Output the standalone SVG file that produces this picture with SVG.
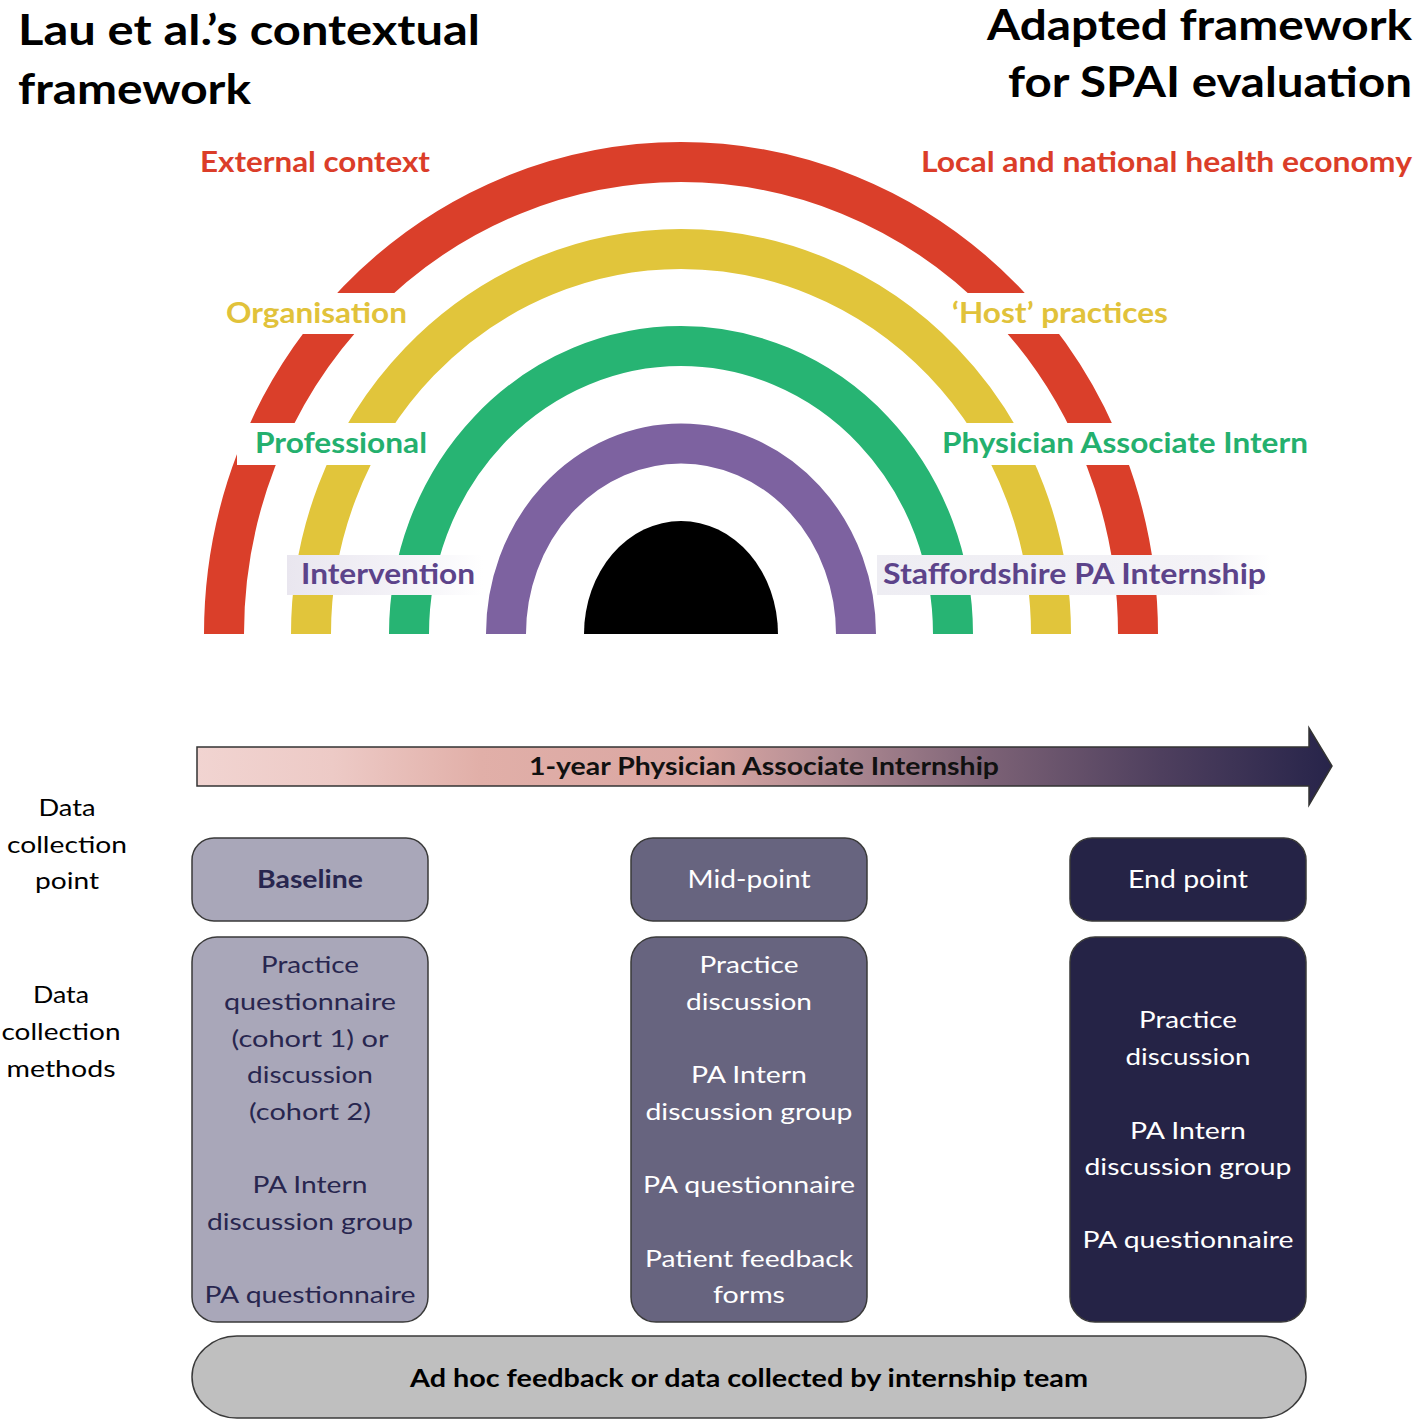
<svg xmlns="http://www.w3.org/2000/svg" width="1416" height="1422" viewBox="0 0 1416 1422">
<style>
.t{font-family:Lato,"Liberation Sans",sans-serif}
.title{font-size:42px;font-weight:bold;fill:#000}
.lab{font-size:28px;font-weight:bold}
.red{fill:#DB3D29}.yel{fill:#E1C23A}.grn{fill:#24B06E}.pur{fill:#5C438A}
.arc{fill:none;stroke-width:40}
.side{font-size:24px;fill:#000}
.box{stroke:#3a3a3a;stroke-width:1.5}
.b1{fill:#A9A7B9}.b2{fill:#67647F}.b3{fill:#252346}
.tx1{fill:#28264F}.tx2{fill:#fff}
.body{font-size:24px}
.head{font-size:25px}
</style>
<defs>
<linearGradient id="arrowGrad" gradientUnits="userSpaceOnUse" x1="197" y1="0" x2="1332" y2="0">
<stop offset="0" stop-color="#F1D4D1"/>
<stop offset="0.12" stop-color="#EDCAC6"/>
<stop offset="0.25" stop-color="#E1AFA8"/>
<stop offset="0.45" stop-color="#D9A6A2"/>
<stop offset="0.56" stop-color="#B08B93"/>
<stop offset="0.70" stop-color="#7B6175"/>
<stop offset="0.85" stop-color="#4E3F5E"/>
<stop offset="1" stop-color="#27244A"/>
</linearGradient>
<linearGradient id="lavL" x1="0" y1="0" x2="1" y2="0">
<stop offset="0" stop-color="#E9E6EF"/>
<stop offset="0.7" stop-color="#F6F5F9"/>
<stop offset="1" stop-color="#FFFFFF"/>
</linearGradient>
<linearGradient id="lavR" x1="0" y1="0" x2="1" y2="0">
<stop offset="0" stop-color="#EEEDF3"/>
<stop offset="0.85" stop-color="#F4F3F7"/>
<stop offset="1" stop-color="#FFFFFF"/>
</linearGradient>
</defs>
<rect width="1416" height="1422" fill="#fff"/>

<g id="titles" class="t title">
<text x="18" y="45" textLength="462" lengthAdjust="spacingAndGlyphs">Lau et al.’s contextual</text>
<text x="18" y="104" textLength="233" lengthAdjust="spacingAndGlyphs">framework</text>
<text x="1412" y="40" text-anchor="end" textLength="425" lengthAdjust="spacingAndGlyphs">Adapted framework</text>
<text x="1412" y="97" text-anchor="end" textLength="404" lengthAdjust="spacingAndGlyphs">for SPAI evaluation</text>
</g>

<g id="rainbow">
<path class="arc" stroke="#DA3F2A" d="M224 634 A457 472 0 0 1 1138 634"/>
<path class="arc" stroke="#E1C53B" d="M311 634 A370 385 0 0 1 1051 634"/>
<path class="arc" stroke="#27B473" d="M409 634 A272 288 0 0 1 953 634"/>
<path class="arc" stroke="#7D62A0" d="M506 634 A175 190.5 0 0 1 856 634"/>
<path d="M584 634 A97 113 0 0 1 778 634 Z" fill="#000"/>
</g>

<g id="label-backgrounds">
<rect x="215" y="293" width="198" height="41" fill="#fff"/>
<rect x="946" y="293" width="230" height="41" fill="#fff"/>
<rect x="237" y="423" width="196" height="42" fill="#fff"/>
<rect x="935" y="423" width="380" height="42" fill="#fff"/>
<rect x="287" y="555" width="196" height="40" fill="url(#lavL)"/>
<rect x="877" y="555" width="394" height="40" fill="url(#lavR)"/>
</g>

<g id="rainbow-labels" class="t lab">
<text class="red" x="200" y="172" textLength="230" lengthAdjust="spacingAndGlyphs">External context</text>
<text class="red" x="921" y="172" textLength="491" lengthAdjust="spacingAndGlyphs">Local and national health economy</text>
<text class="yel" x="226" y="323" textLength="181" lengthAdjust="spacingAndGlyphs">Organisation</text>
<text class="yel" x="952" y="323" textLength="216" lengthAdjust="spacingAndGlyphs">‘Host’ practices</text>
<text class="grn" x="255" y="453" textLength="172" lengthAdjust="spacingAndGlyphs">Professional</text>
<text class="grn" x="942" y="453" textLength="366" lengthAdjust="spacingAndGlyphs">Physician Associate Intern</text>
<text class="pur" x="301" y="584" textLength="174" lengthAdjust="spacingAndGlyphs">Intervention</text>
<text class="pur" x="883" y="584" textLength="383" lengthAdjust="spacingAndGlyphs">Staffordshire PA Internship</text>
</g>

<g id="timeline-arrow">
<polygon points="197,747 1309,747 1309,728 1332,766 1309,805 1309,786 197,786" fill="url(#arrowGrad)" stroke="#333" stroke-width="1.5"/>
<text class="t" x="764" y="775" text-anchor="middle" font-size="24" font-weight="bold" fill="#111" textLength="470" lengthAdjust="spacingAndGlyphs">1-year Physician Associate Internship</text>
</g>

<g id="side-labels" class="t side" text-anchor="middle">
<text x="67" y="816" textLength="57" lengthAdjust="spacingAndGlyphs">Data</text>
<text x="67" y="853" textLength="120" lengthAdjust="spacingAndGlyphs">collection</text>
<text x="67" y="889" textLength="64" lengthAdjust="spacingAndGlyphs">point</text>
<text x="61" y="1003" textLength="56" lengthAdjust="spacingAndGlyphs">Data</text>
<text x="61" y="1040" textLength="119" lengthAdjust="spacingAndGlyphs">collection</text>
<text x="61" y="1077" textLength="109" lengthAdjust="spacingAndGlyphs">methods</text>
</g>

<g id="baseline-point">
<rect class="box b1" x="192" y="838" width="236" height="83" rx="22"/>
<text class="t head tx1" x="310" y="888" text-anchor="middle" font-weight="bold" textLength="106" lengthAdjust="spacingAndGlyphs">Baseline</text>
</g>
<g id="mid-point">
<rect class="box b2" x="631" y="838" width="236" height="83" rx="22"/>
<text class="t head tx2" x="749" y="888" text-anchor="middle" textLength="123" lengthAdjust="spacingAndGlyphs">Mid-point</text>
</g>
<g id="end-point">
<rect class="box b3" x="1070" y="838" width="236" height="83" rx="22"/>
<text class="t head tx2" x="1188" y="888" text-anchor="middle" textLength="120" lengthAdjust="spacingAndGlyphs">End point</text>
</g>

<g id="baseline-methods">
<rect class="box b1" x="192" y="937" width="236" height="385" rx="25"/>
<g class="t body tx1" text-anchor="middle">
<text x="310" y="973" textLength="98" lengthAdjust="spacingAndGlyphs">Practice</text>
<text x="310" y="1010" textLength="172" lengthAdjust="spacingAndGlyphs">questionnaire</text>
<text x="310" y="1047" textLength="157" lengthAdjust="spacingAndGlyphs">(cohort 1) or</text>
<text x="310" y="1083" textLength="126" lengthAdjust="spacingAndGlyphs">discussion</text>
<text x="310" y="1120" textLength="122" lengthAdjust="spacingAndGlyphs">(cohort 2)</text>
<text x="310" y="1193" textLength="115" lengthAdjust="spacingAndGlyphs">PA Intern</text>
<text x="310" y="1230" textLength="206" lengthAdjust="spacingAndGlyphs">discussion group</text>
<text x="310" y="1303" textLength="211" lengthAdjust="spacingAndGlyphs">PA questionnaire</text>
</g>
</g>

<g id="mid-methods">
<rect class="box b2" x="631" y="937" width="236" height="385" rx="25"/>
<g class="t body tx2" text-anchor="middle">
<text x="749" y="973" textLength="99" lengthAdjust="spacingAndGlyphs">Practice</text>
<text x="749" y="1010" textLength="126" lengthAdjust="spacingAndGlyphs">discussion</text>
<text x="749" y="1083" textLength="116" lengthAdjust="spacingAndGlyphs">PA Intern</text>
<text x="749" y="1120" textLength="207" lengthAdjust="spacingAndGlyphs">discussion group</text>
<text x="749" y="1193" textLength="212" lengthAdjust="spacingAndGlyphs">PA questionnaire</text>
<text x="749" y="1267" textLength="208" lengthAdjust="spacingAndGlyphs">Patient feedback</text>
<text x="749" y="1303" textLength="72" lengthAdjust="spacingAndGlyphs">forms</text>
</g>
</g>

<g id="end-methods">
<rect class="box b3" x="1070" y="937" width="236" height="385" rx="25"/>
<g class="t body tx2" text-anchor="middle">
<text x="1188" y="1028" textLength="98" lengthAdjust="spacingAndGlyphs">Practice</text>
<text x="1188" y="1065" textLength="125" lengthAdjust="spacingAndGlyphs">discussion</text>
<text x="1188" y="1139" textLength="116" lengthAdjust="spacingAndGlyphs">PA Intern</text>
<text x="1188" y="1175" textLength="207" lengthAdjust="spacingAndGlyphs">discussion group</text>
<text x="1188" y="1248" textLength="211" lengthAdjust="spacingAndGlyphs">PA questionnaire</text>
</g>
</g>

<g id="adhoc">
<rect class="box" x="192" y="1336" width="1114" height="82" rx="45" ry="41" fill="#BFBFBF" stroke="#4a4a4a"/>
<text class="t" x="749" y="1387" text-anchor="middle" font-size="25" font-weight="bold" fill="#000" textLength="678" lengthAdjust="spacingAndGlyphs">Ad hoc feedback or data collected by internship team</text>
</g>
</svg>
